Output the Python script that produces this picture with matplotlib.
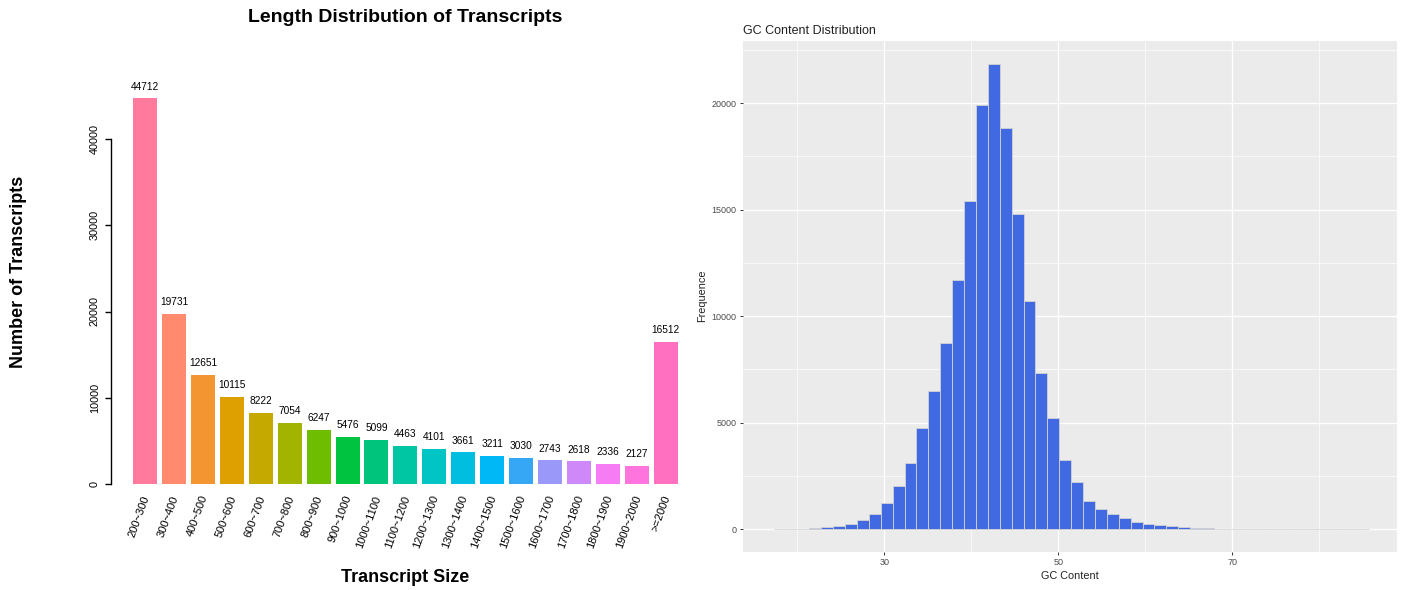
import matplotlib
matplotlib.use("Agg")
import matplotlib.pyplot as plt
from matplotlib.ticker import MultipleLocator, FixedLocator
import numpy as np

plt.rcParams['font.family'] = ['Liberation Sans', 'DejaVu Sans']

# ---- transcript length distribution ----
size_bins = ["200~300", "300~400", "400~500", "500~600", "600~700", "700~800",
             "800~900", "900~1000", "1000~1100", "1100~1200", "1200~1300",
             "1300~1400", "1400~1500", "1500~1600", "1600~1700", "1700~1800",
             "1800~1900", "1900~2000", ">=2000"]
transcript_counts = [44712, 19731, 12651, 10115, 8222, 7054, 6247, 5476, 5099,
                     4463, 4101, 3661, 3211, 3030, 2743, 2618, 2336, 2127, 16512]
bar_colors = ['#FF7A9C', '#FF8A6E', '#F39530', '#DE9F00', '#C5A900', '#A2B400',
              '#6EBD00', '#00C340', '#00C47B', '#00C6A4', '#00C5C4', '#00BEE0',
              '#00B8F5', '#35A7F5', '#9A98F8', '#CE88F8', '#F57CF3', '#FF74DD',
              '#FF70C0']
y_ticks_left = [0, 10000, 20000, 30000, 40000]

# ---- GC content histogram (50 bins) ----
gc_start = 17.28
gc_width = 1.368
gc_counts = [2, 5, 10, 30, 80, 157, 236, 410, 707, 1210,
             2030, 3120, 4750, 6500, 8740, 11700, 15430, 19900, 21850, 18850,
             14790, 10710, 7320, 5210, 3240, 2190, 1337, 928, 692, 503,
             346, 236, 173, 140, 110, 50, 30, 15, 10, 5,
             4, 3, 2, 2, 1, 1, 1, 1, 1, 1]

W, H = 1405, 590
fig = plt.figure(figsize=(W / 100, H / 100), dpi=100)
fig.patch.set_facecolor('white')


def px_box(left, top, right, bottom):
    return [left / W, 1 - bottom / H, (right - left) / W, (bottom - top) / H]


# ================= left panel =================
ax1 = fig.add_axes(px_box(124.75, 87.25, 686, 484))
x = np.arange(len(transcript_counts))
ax1.bar(x, transcript_counts, width=0.83, color=bar_colors, edgecolor='none')
ax1.set_xlim(-0.7, 18.7)
ax1.set_ylim(0, 46000)
for xi, v in zip(x, transcript_counts):
    ax1.annotate(str(v), (xi, v), xytext=(0, 8.5), textcoords='offset points',
                 ha='center', va='center', fontsize=7.3)

for s in ['top', 'right', 'bottom']:
    ax1.spines[s].set_visible(False)
ax1.spines['left'].set_position(('outward', 10))
ax1.spines['left'].set_bounds(0, 40000)
ax1.spines['left'].set_linewidth(1.0)
ax1.yaxis.set_major_locator(FixedLocator(y_ticks_left))
ax1.set_yticklabels([str(t) for t in y_ticks_left], rotation=90, va='center',
                    fontsize=7.8)
ax1.tick_params(axis='y', length=4, width=1.0, pad=4)
ax1.set_xticks(x)
ax1.set_xticklabels([])
ax1.tick_params(axis='x', length=0)
for xi, lab in zip(x, size_bins):
    ax1.annotate(lab, (xi, 0), xytext=(1, -8.5), textcoords='offset points',
                 rotation=70, rotation_mode='anchor', ha='right', va='center',
                 fontsize=8, annotation_clip=False)

fig.text(405 / W, 1 - 18 / H, "Length Distribution of Transcripts",
         ha='center', va='center', fontsize=14, fontweight='bold')
fig.text(19 / W, 1 - 272 / H, "Number of Transcripts", rotation=90,
         ha='center', va='center', fontsize=13, fontweight='bold')
fig.text(405 / W, 1 - 577 / H, "Transcript Size",
         ha='center', va='center', fontsize=13, fontweight='bold')

# ================= right panel =================
ax2 = fig.add_axes(px_box(742.7, 40.7, 1396.7, 551.7))
ax2.set_facecolor('#EBEBEB')
edges = gc_start + gc_width * np.arange(len(gc_counts))
ax2.bar(edges, gc_counts, width=gc_width, align='edge', color='#4169E1',
        edgecolor='#D3D3D3', linewidth=0.6, zorder=3)
ax2.set_xlim(13.72, 88.9)
ax2.set_ylim(-1066, 22940)

ax2.xaxis.set_major_locator(FixedLocator([30, 50, 70]))
ax2.xaxis.set_minor_locator(FixedLocator([20, 40, 60, 80]))
ax2.yaxis.set_major_locator(MultipleLocator(5000))
ax2.yaxis.set_minor_locator(MultipleLocator(2500))
ax2.grid(which='major', color='white', linewidth=1.0, zorder=0)
ax2.grid(which='minor', color='white', linewidth=0.5, zorder=0)
ax2.set_axisbelow(True)
for s in ax2.spines.values():
    s.set_visible(False)
ax2.tick_params(which='major', length=2.5, width=0.7, color='#333333',
                labelsize=6.5, labelcolor='#4D4D4D', pad=2)
ax2.tick_params(which='minor', length=0)
ax2.set_yticklabels([str(int(t)) for t in ax2.get_yticks()])
ax2.set_xlabel("GC Content", fontsize=7.8, color='#222222', labelpad=3)
ax2.set_ylabel("Frequence", fontsize=7.8, color='#222222', labelpad=3)
ax2.set_title("GC Content Distribution", loc='left', fontsize=9,
              color='#222222', pad=5)

fig.savefig("out.png", dpi=100)
